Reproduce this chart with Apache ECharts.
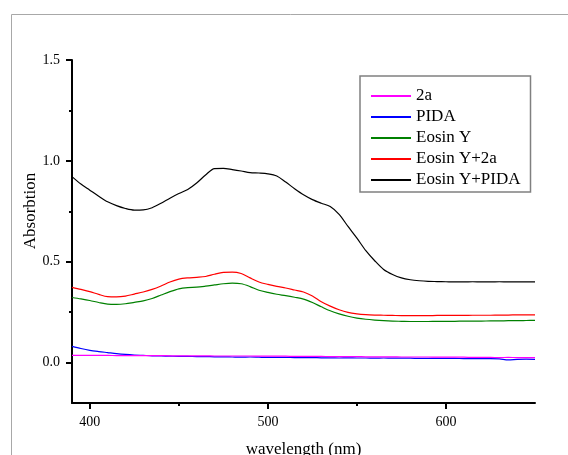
<!DOCTYPE html>
<html>
<head>
<meta charset="utf-8">
<script src="https://cdn.jsdelivr.net/npm/echarts@6/dist/echarts.min.js"></script>
<style>
  html, body { margin: 0; padding: 0; background: #ffffff; }
  #chart { width: 568px; height: 455px; }
</style>
</head>
<body>
<div id="chart"></div>
<script>
// Wavelength grid (nm)
const wavelengths = [
  390, 395, 400, 405, 410, 415, 420, 425, 430, 435, 440, 445, 450,
  455, 460, 465, 470, 475, 480, 485, 490, 495, 500,
  505, 510, 515, 520, 525, 530, 535, 540, 545, 550,
  555, 560, 565, 570, 575, 580, 585, 590, 595, 600,
  605, 610, 615, 620, 625, 630, 635, 640, 645, 650
];

// Absorption spectra
const abs2a = [
  0.036, 0.036, 0.036, 0.036, 0.036, 0.035, 0.035, 0.035, 0.035, 0.035, 0.035, 0.034, 0.034,
  0.034, 0.034, 0.034, 0.033, 0.033, 0.033, 0.033, 0.033, 0.032, 0.032,
  0.032, 0.032, 0.031, 0.031, 0.031, 0.031, 0.030, 0.030, 0.030, 0.030,
  0.029, 0.029, 0.029, 0.029, 0.028, 0.028, 0.028, 0.028, 0.027, 0.027,
  0.027, 0.027, 0.026, 0.026, 0.026, 0.025, 0.026, 0.025, 0.025, 0.025
];
const absPIDA = [
  0.081, 0.070, 0.061, 0.055, 0.050, 0.045, 0.041, 0.038, 0.036, 0.034, 0.033, 0.032, 0.031,
  0.031, 0.030, 0.030, 0.029, 0.029, 0.028, 0.027, 0.028, 0.027, 0.026,
  0.026, 0.026, 0.025, 0.025, 0.025, 0.024, 0.024, 0.023, 0.024, 0.023,
  0.023, 0.022, 0.023, 0.022, 0.022, 0.022, 0.021, 0.021, 0.021, 0.021,
  0.021, 0.020, 0.020, 0.020, 0.020, 0.019, 0.014, 0.016, 0.017, 0.016
];
const absEosin = [
  0.323, 0.316, 0.308, 0.298, 0.290, 0.289, 0.292, 0.299, 0.306, 0.318, 0.335, 0.352, 0.366,
  0.372, 0.374, 0.379, 0.385, 0.391, 0.394, 0.391, 0.377, 0.359, 0.348,
  0.339, 0.332, 0.324, 0.315, 0.298, 0.277, 0.257, 0.242, 0.230, 0.221,
  0.215, 0.211, 0.208, 0.206, 0.205, 0.204, 0.204, 0.204, 0.205, 0.205,
  0.205, 0.206, 0.206, 0.206, 0.207, 0.207, 0.208, 0.208, 0.209, 0.210
];
const absEosin2a = [
  0.373, 0.363, 0.352, 0.338, 0.327, 0.326, 0.330, 0.340, 0.350, 0.363, 0.380, 0.400, 0.414,
  0.420, 0.423, 0.427, 0.438, 0.447, 0.449, 0.442, 0.420, 0.400, 0.388,
  0.378, 0.370, 0.360, 0.350, 0.330, 0.302, 0.280, 0.262, 0.249, 0.242,
  0.238, 0.236, 0.235, 0.234, 0.233, 0.233, 0.233, 0.233, 0.234, 0.234,
  0.234, 0.234, 0.235, 0.235, 0.235, 0.236, 0.236, 0.237, 0.237, 0.237
];
const absEosinPIDA = [
  0.922, 0.885, 0.855, 0.825, 0.797, 0.778, 0.764, 0.756, 0.757, 0.768, 0.790, 0.815, 0.838,
  0.858, 0.890, 0.930, 0.962, 0.963, 0.957, 0.950, 0.942, 0.940, 0.936,
  0.925, 0.895, 0.862, 0.832, 0.808, 0.790, 0.774, 0.735, 0.675, 0.617,
  0.555, 0.505, 0.462, 0.437, 0.420, 0.411, 0.406, 0.403, 0.402, 0.401,
  0.400, 0.400, 0.401, 0.400, 0.400, 0.401, 0.400, 0.400, 0.400, 0.400
];

const seriesNames = ['2a', 'PIDA', 'Eosin Y', 'Eosin Y+2a', 'Eosin Y+PIDA'];
const seriesColors = ['#ff00ff', '#0000ff', '#008000', '#ff0000', '#000000'];
const seriesValues = [abs2a, absPIDA, absEosin, absEosin2a, absEosinPIDA];

const xMajorTicks = [400, 500, 600];
const xMinorTicks = [450, 550];
const yMajorTicks = [0, 0.5, 1.0, 1.5];
const yMinorTicks = [0.25, 0.75, 1.25];

const serif = '"Liberation Serif", "Times New Roman", serif';

const chart = echarts.init(document.getElementById('chart'), null, { renderer: 'canvas' });

const pair = (vals) => wavelengths.map((w, i) => [w, vals[i]]);

const mainX = {
  type: 'value', min: 390, max: 650, gridIndex: 0, position: 'bottom',
  axisLine: { show: true, onZero: false, lineStyle: { color: '#000', width: 2 } },
  axisTick: { show: true, inside: false, length: 6, customValues: xMajorTicks, lineStyle: { color: '#000', width: 2 } },
  axisLabel: { show: true, customValues: xMajorTicks, margin: 12, color: '#000', fontFamily: serif, fontSize: 14 },
  splitLine: { show: false },
  name: 'wavelength (nm)', nameLocation: 'middle', nameGap: 38,
  nameTextStyle: { color: '#000', fontFamily: serif, fontSize: 17 }
};
const minorX = {
  type: 'value', min: 390, max: 650, gridIndex: 0, position: 'bottom',
  axisLine: { show: false, onZero: false },
  axisTick: { show: true, inside: false, length: 3, customValues: xMinorTicks, lineStyle: { color: '#000', width: 2 } },
  axisLabel: { show: false },
  splitLine: { show: false }
};
const mainY = {
  type: 'value', min: -0.2, max: 1.5, gridIndex: 0, position: 'left',
  axisLine: { show: true, onZero: false, lineStyle: { color: '#000', width: 2 } },
  axisTick: { show: true, inside: false, length: 6, customValues: yMajorTicks, lineStyle: { color: '#000', width: 2 } },
  axisLabel: { show: true, customValues: yMajorTicks, margin: 12, color: '#000', fontFamily: serif, fontSize: 14,
    formatter: (v) => Number(v).toFixed(1) },
  splitLine: { show: false }
};
const minorY = {
  type: 'value', min: -0.2, max: 1.5, gridIndex: 0, position: 'left',
  axisLine: { show: false, onZero: false },
  axisTick: { show: true, inside: false, length: 3, customValues: yMinorTicks, lineStyle: { color: '#000', width: 2 } },
  axisLabel: { show: false },
  splitLine: { show: false }
};

const series = seriesNames.map((name, i) => ({
  name: name,
  type: 'line',
  xAxisIndex: 0,
  yAxisIndex: 0,
  data: pair(seriesValues[i]),
  symbol: 'none',
  smooth: 0.3,
  z: name === '2a' ? 5 : 3,
  lineStyle: { color: seriesColors[i], width: 1.2 },
  itemStyle: { color: seriesColors[i] },
  emphasis: { disabled: true }
}));

chart.setOption({
  animation: false,
  backgroundColor: '#ffffff',
  grid: { left: 72, top: 60, right: 33, bottom: 52, containLabel: false, outerBoundsMode: 'none' },
  xAxis: [mainX, minorX],
  yAxis: [mainY, minorY],
  legend: {
    orient: 'vertical',
    left: 360, top: 76,
    padding: [11, 10, 3, 11],
    backgroundColor: '#ffffff',
    borderColor: '#808080', borderWidth: 1.5,
    itemWidth: 40, itemHeight: 2, itemGap: 3,
    icon: 'rect',
    data: seriesNames.map((n, i) => ({
      name: n,
      itemStyle: { color: seriesColors[i] }
    })),
    textStyle: { color: '#000', fontFamily: serif, fontSize: 17, lineHeight: 18 },
    selectedMode: false
  },
  graphic: [
    {
      type: 'rect', silent: true, z: -10,
      shape: { x: 11.5, y: 14.5, width: 700, height: 600 },
      style: { fill: 'none', stroke: '#a8a8a8', lineWidth: 1 }
    },
    {
      type: 'text', silent: true,
      x: 31, y: 211, rotation: Math.PI / 2,
      style: {
        text: 'Absorbtion', fill: '#000', font: '17px ' + serif,
        textAlign: 'center', textVerticalAlign: 'middle'
      }
    }
  ],
  series: series
});
</script>
</body>
</html>
